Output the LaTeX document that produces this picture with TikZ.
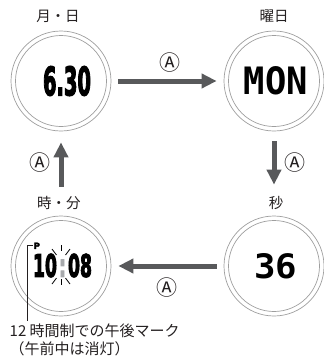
\documentclass[tikz,border=0pt]{standalone}
\usepackage{fontspec}
\setmainfont{Noto Sans CJK JP}
\newfontfamily\jp{Noto Sans CJK JP}
\newfontfamily\dvb{DejaVu Sans}[BoldFeatures={FakeBold=4}]
\newfontfamily\dvm{DejaVu Sans Mono}
\usetikzlibrary{arrows.meta}
\definecolor{ringc}{HTML}{9E9E9E}
\definecolor{arrc}{HTML}{58595B}
\definecolor{txtc}{HTML}{231F20}
\definecolor{colc}{HTML}{A7A9AC}
\newcommand{\lcd}[3]{\resizebox{#1}{#2}{#3}}
\tikzset{
  watch/.style={circle, draw=ringc, line width=0.7pt, minimum size=100pt, inner sep=0pt},
  ring/.style={draw=ringc, line width=0.7pt},
  arr/.style={draw=arrc, line width=5pt, -{Triangle[length=15pt,width=14pt]}},
  lab/.style={text=txtc, font=\jp\fontsize{14.5}{16}\selectfont, inner sep=0pt},
  btn/.style={text=txtc, font=\jp\fontsize{21}{24}\selectfont, inner sep=0pt},
  dig/.style={text=black, inner sep=0pt},
  flash/.style={draw=black, line width=0.8pt},
  lead/.style={draw=txtc, line width=0.7pt}
}
\begin{document}
\begin{tikzpicture}[x=1pt,y=-1pt]
\useasboundingbox (0,0) rectangle (324,362);
% watches
\node[watch] (c1) at (61,81) {};
\node[watch] (c2) at (274,81) {};
\node[watch] (c3) at (274,266) {};
\node[watch] (c4) at (61,266) {};
\foreach \c in {c1,c2,c3,c4} \draw[ring] (\c.center) circle[radius=45.5];
% labels
\node[lab] (l1) at (58,16) {月・日};
\node[lab] (l2) at (274,16) {曜日};
\node[lab] (l3) at (59,203) {時・分};
\node[lab] (l4) at (276,203) {秒};
% displays
\node[dig] (d1) at (67,81) {\lcd{48pt}{29pt}{\dvb\bfseries 6.30}};
\node[dig] (d2) at (276,81) {\lcd{64pt}{28pt}{\dvm\bfseries MON}};
\node[dig] (d3) at (276,266) {\lcd{43pt}{25pt}{\dvm\bfseries 36}};
\node[dig] (d4) at (62.5,265.5) {\lcd{59pt}{23pt}{\dvb\bfseries 10\kern0.12em\textcolor{colc}{:}\kern0.12em 08}};
% flash marks
\draw[flash] (61,245) -- (61,251);
\draw[flash] (61,279) -- (61,285);
\draw[flash] (52,249) -- (56.5,255);
\draw[flash] (70,249) -- (65.5,255);
\draw[flash] (52,284) -- (56.5,278);
\draw[flash] (70,284) -- (65.5,278);
% PM mark and leader
\node[dig, anchor=north west, font=\dvb\bfseries\fontsize{8.5}{9}\selectfont] (pm) at (33.5,242.5) {P};
\coordinate (tk) at (33,245.5);
\coordinate (le) at (27,321);
\draw[lead] (tk) -| (le);
\node[text=txtc, anchor=north west, inner sep=0pt, align=left,
      font=\jp\fontsize{15}{18}\selectfont] (note) at (9.5,323.5)
  {12 時間制での午後マーク\\（午前中は消灯）};
% arrows
\draw[arr, shorten <=7pt, shorten >=7pt] (c1) -- (c2);
\draw[arr, shorten <=10pt, shorten >=31pt] (c2) -- (c3);
\draw[arr, shorten <=7pt, shorten >=7pt] (c3) -- (c4);
\draw[arr, shorten <=29pt, shorten >=11pt] (c4) -- (c1);
% button labels
\node[btn] (a1) at (170,63) {Ⓐ};
\node[btn] (a2) at (295,163) {Ⓐ};
\node[btn] (a3) at (167,288) {Ⓐ};
\node[btn] (a4) at (40,163) {Ⓐ};
\end{tikzpicture}
\end{document}
